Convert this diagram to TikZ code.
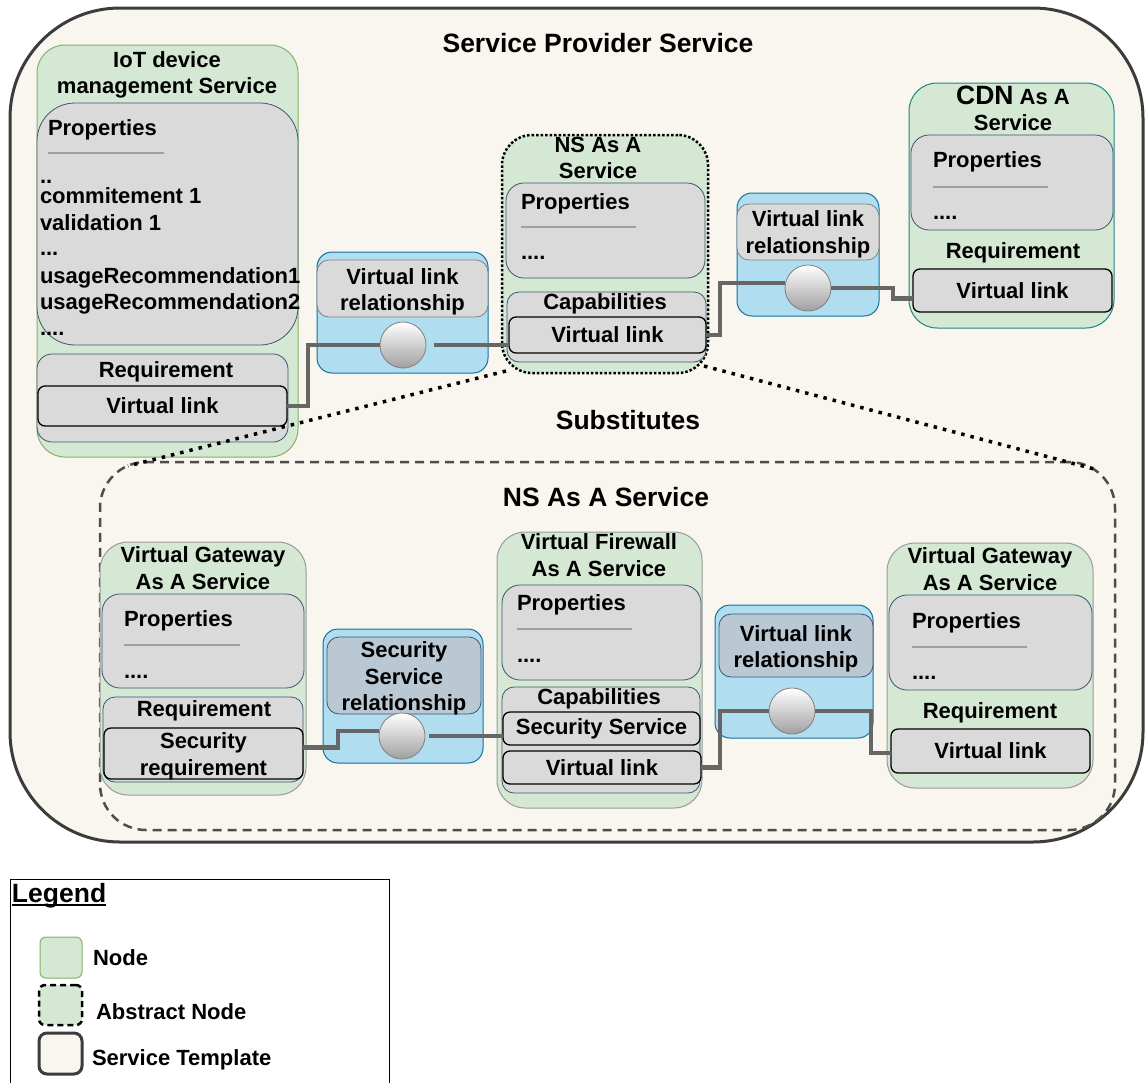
\documentclass[tikz,border=0pt]{standalone}
\usepackage{fontspec}
\setmainfont{Liberation Sans}
\usepackage{xcolor}
\usetikzlibrary{shapes,calc,positioning}

\definecolor{tplfill}{HTML}{F8F6EE}
\definecolor{tpldraw}{HTML}{3C3C3C}
\definecolor{nodefill}{HTML}{D5E8D4}
\definecolor{nodedraw}{HTML}{82B366}
\definecolor{tealdraw}{HTML}{1E8585}
\definecolor{graydraw}{HTML}{9A9A9A}
\definecolor{propfill}{HTML}{DADADA}
\definecolor{propdraw}{HTML}{3B5670}
\definecolor{relfill}{HTML}{B1DDF0}
\definecolor{reldraw}{HTML}{10739E}
\definecolor{rellabel}{HTML}{BAC8D3}
\definecolor{wirecol}{HTML}{666666}
\definecolor{ballgray}{HTML}{A0A0A0}
\definecolor{sepgray}{HTML}{A0A0A0}
\definecolor{subsgray}{HTML}{4D4D4D}

\begin{document}
\begin{tikzpicture}[x=1pt,y=-1pt]
	\tikzstyle{every node}=[inner sep=0pt, outer sep=0pt]
	\tikzstyle{lbl}=[font=\fontsize{22}{26.5}\selectfont\bfseries]
	\tikzstyle{ttl}=[font=\fontsize{26.5}{30}\selectfont\bfseries]
	\tikzstyle{shp}=[anchor=north west]
	\tikzstyle{tplbox}=[shp, fill=tplfill, draw=tpldraw, line width=3pt, rounded corners=110pt]
	\tikzstyle{nodebox}=[shp, fill=nodefill, draw=nodedraw, line width=1pt, rounded corners=28pt]
	\tikzstyle{absbox}=[shp, fill=nodefill, draw=black, line width=2.5pt, dash pattern=on 2.5pt off 2pt, rounded corners=30pt]
	\tikzstyle{subsbox}=[shp, draw=subsgray, line width=2.5pt, dash pattern=on 9pt off 6pt, rounded corners=46pt]
	\tikzstyle{propbox}=[shp, fill=propfill, draw=propdraw, line width=0.8pt, rounded corners=18pt]
	\tikzstyle{vlbox}=[shp, fill=propfill, draw=black, line width=1.3pt, rounded corners=7pt]
	\tikzstyle{relbox}=[shp, fill=relfill, draw=reldraw, line width=1pt, rounded corners=15pt]
	\tikzstyle{relgray}=[shp, fill=propfill, draw=gray, line width=0.8pt, rounded corners=12pt]
	\tikzstyle{relblue}=[shp, fill=rellabel, draw=propdraw, line width=0.8pt, rounded corners=12pt]
	\tikzstyle{ballnode}=[circle, minimum size=46pt, top color=white, bottom color=ballgray, draw=gray, line width=0.8pt]
	\tikzstyle{wire}=[draw=wirecol, line width=4.5pt]
	\tikzstyle{sepline}=[draw=sepgray, line width=2pt]
	\tikzstyle{dots}=[line width=3.5pt, dash pattern=on 3.5pt off 6pt]
	\useasboundingbox (0,0) rectangle (1145,1082);

	% service template
	\node[tplbox, minimum width=1133pt, minimum height=834pt] (tpl) at (10,8) {};
	\node[ttl, anchor=base] (tpltitle) at (598,52) {Service Provider Service};

	% IoT device management
	\node[nodebox, minimum width=261pt, minimum height=412pt] (iot) at (37,45) {};
	\node[lbl, align=center] (iottitle) at (167,75) {IoT device\\management Service};
	\node[propbox, rounded corners=38pt, minimum width=261pt, minimum height=242pt] (iotprop) at (37,103) {};
	\node[lbl, anchor=base west] (iotproptxt) at (48,135) {Properties};
	\draw[sepline] (48,153) -- (164,153);
	\node[lbl, anchor=base west] (iotdots) at (40,183) {..};
	\node[lbl, anchor=base west] (iotcom) at (40,203) {commitement 1};
	\node[lbl, anchor=base west] (iotval) at (40,230) {validation 1};
	\node[lbl, anchor=base west] (iotdotsb) at (40,255) {...};
	\node[lbl, anchor=base west] (iotusea) at (40,283) {usageRecommendation1};
	\node[lbl, anchor=base west] (iotuseb) at (40,309) {usageRecommendation2};
	\node[lbl, anchor=base west] (iotdotsc) at (40,335) {....};
	\node[propbox, rounded corners=15pt, minimum width=251pt, minimum height=88pt] (iotreq) at (37,354) {};
	\node[lbl, anchor=base] (iotreqtxt) at (166,377) {Requirement};
	\node[vlbox, lbl, minimum width=249pt, minimum height=40pt] (iotvl) at (38,386) {Virtual link};

	% first relationship
	\node[relbox, minimum width=171pt, minimum height=121pt] (rel1) at (317,252) {};
	\node[relgray, minimum width=171pt, minimum height=57pt] (rel1lbl) at (317,260) {};
	\node[lbl, align=center] (rel1txt) at ([yshift=-3.5pt]rel1lbl.center) {Virtual link\\relationship};
	\node[ballnode] (rel1ball) at (403,345) {};

	% NS as a service (abstract)
	\node[absbox, minimum width=206pt, minimum height=238pt] (ns) at (502,135) {};
	\node[lbl, align=center] (nstitle) at (598,158) {NS As A\\Service};
	\node[propbox, minimum width=199pt, minimum height=95pt] (nsprop) at (506,183) {};
	\node[lbl, anchor=base west] (nsproptxt) at (521,209) {Properties};
	\draw[sepline] (521,227) -- (636,227);
	\node[lbl, anchor=base west] (nsdots) at (521,259) {....};
	\node[propbox, rounded corners=12pt, minimum width=199pt, minimum height=70pt] (nscap) at (507,292) {};
	\node[lbl, anchor=base] (nscaptxt) at (605,309) {Capabilities};
	\node[vlbox, lbl, minimum width=197pt, minimum height=36pt] (nsvl) at (509,317) {Virtual link};

	% second relationship
	\node[relbox, minimum width=142pt, minimum height=123pt] (rel2) at (737,193) {};
	\node[relgray, minimum width=142pt, minimum height=56pt] (rel2lbl) at (737,204) {};
	\node[lbl, align=center] (rel2txt) at ([yshift=-2.5pt]rel2lbl.center) {Virtual link\\relationship};
	\node[ballnode] (rel2ball) at (808,288) {};

	% CDN
	\node[nodebox, draw=tealdraw, minimum width=205pt, minimum height=245pt] (cdn) at (909,83) {};
	\node[lbl, align=center] (cdntitle) at (1013,108.5) {{\fontsize{26.5}{30}\selectfont CDN} As A\\Service};
	\node[propbox, minimum width=202pt, minimum height=95pt] (cdnprop) at (911,135) {};
	\node[lbl, anchor=base west] (cdnproptxt) at (933,167) {Properties};
	\draw[sepline] (933,187) -- (1048,187);
	\node[lbl, anchor=base west] (cdndots) at (933,219) {....};
	\node[lbl, anchor=base] (cdnreqtxt) at (1013,258) {Requirement};
	\node[vlbox, lbl, minimum width=199pt, minimum height=43pt] (cdnvl) at (913,269) {Virtual link};

	% substitutes
	\node[subsbox, minimum width=1015pt, minimum height=368pt] (subs) at (100,462) {};
	\node[ttl, anchor=base] (substxt) at (628,429) {Substitutes};
	\node[ttl, anchor=base] (substitle) at (606,506) {NS As A Service};

	% virtual gateway 1
	\node[nodebox, draw=graydraw, minimum width=206pt, minimum height=253pt] (gwa) at (100,542) {};
	\node[lbl, align=center] (gwatitle) at (203,568) {Virtual Gateway\\As A Service};
	\node[propbox, minimum width=202pt, minimum height=94pt] (gwaprop) at (102,594) {};
	\node[lbl, anchor=base west] (gwaproptxt) at (124,626) {Properties};
	\draw[sepline] (124,645) -- (240,645);
	\node[lbl, anchor=base west] (gwadots) at (124,678) {....};
	\node[propbox, rounded corners=12pt, minimum width=200pt, minimum height=85pt] (gwareq) at (103,697) {};
	\node[lbl, anchor=base] (gwareqtxt) at (204,716) {Requirement};
	\node[vlbox, minimum width=199pt, minimum height=51pt] (gwasec) at (104,728) {};
	\node[lbl, align=center] (gwasectxt) at ([yshift=-3pt]gwasec.center) {Security\\requirement};

	% security relationship
	\node[relbox, minimum width=160pt, minimum height=134pt] (secrel) at (323,629) {};
	\node[relblue, minimum width=154pt, minimum height=77pt] (secrellbl) at (327,637) {};
	\node[lbl, align=center] (secreltxt) at ([yshift=-3pt]secrellbl.center) {Security\\Service\\relationship};
	\node[ballnode] (secball) at (402,736) {};

	% virtual firewall
	\node[nodebox, draw=graydraw, minimum width=205pt, minimum height=276pt] (fw) at (497,532) {};
	\node[lbl, align=center] (fwtitle) at (599,555) {Virtual Firewall\\As A Service};
	\node[propbox, minimum width=199pt, minimum height=95pt] (fwprop) at (502,585) {};
	\node[lbl, anchor=base west] (fwproptxt) at (517,610) {Properties};
	\draw[sepline] (517,629) -- (632,629);
	\node[lbl, anchor=base west] (fwdots) at (517,662) {....};
	\node[propbox, rounded corners=12pt, minimum width=198pt, minimum height=106pt] (fwcap) at (502,687) {};
	\node[lbl, anchor=base] (fwcaptxt) at (599,704) {Capabilities};
	\node[vlbox, lbl, minimum width=197pt, minimum height=33pt] (fwsec) at (503,712) {Security Service};
	\node[vlbox, lbl, minimum width=198pt, minimum height=33pt] (fwvl) at (503,751) {Virtual link};

	% third relationship
	\node[relbox, minimum width=158pt, minimum height=133pt] (rel3) at (715,605) {};
	\node[relblue, minimum width=154pt, minimum height=63pt] (rel3lbl) at (719,614) {};
	\node[lbl, align=center] (rel3txt) at ([yshift=-3.5pt]rel3lbl.center) {Virtual link\\relationship};
	\node[ballnode] (rel3ball) at (792,711) {};

	% virtual gateway 2
	\node[nodebox, draw=graydraw, minimum width=206pt, minimum height=245pt] (gwb) at (887,543) {};
	\node[lbl, align=center] (gwbtitle) at (990,569) {Virtual Gateway\\As A Service};
	\node[propbox, minimum width=203pt, minimum height=95pt] (gwbprop) at (889,595) {};
	\node[lbl, anchor=base west] (gwbproptxt) at (912,628) {Properties};
	\draw[sepline] (912,647) -- (1027,647);
	\node[lbl, anchor=base west] (gwbdots) at (912,679) {....};
	\node[lbl, anchor=base] (gwbreqtxt) at (990,718) {Requirement};
	\node[vlbox, lbl, minimum width=199pt, minimum height=44pt] (gwbvl) at (891,729) {Virtual link};

	% links
	\draw[wire] (iotvl.east) -- ++(21,0) |- (rel1ball.west);
	\draw[wire, shorten <=8pt] (rel1ball.east) -- (rel1ball.east -| nsvl.west);
	\draw[wire] (nsvl.east) -- ++(14,0) |- ([yshift=5pt]rel2ball.west);
	\draw[wire] (rel2ball.east) -- ++(62,0) |- ([yshift=-8pt]cdnvl.west);
	\draw[wire] ([yshift=6pt]gwasec.east) -- ++(35,0) |- ([yshift=5pt]secball.west);
	\draw[wire, shorten <=4pt] (secball.east) -- (secball.east -| fwsec.west);
	\draw[wire] (fwvl.east) -- ++(19,0) |- (rel3ball.west);
	\draw[wire] (rel3ball.east) -- ++(56,0) |- ([yshift=-2pt]gwbvl.west);

	% substitution lines
	\coordinate (nsleft) at (506,371);
	\coordinate (nsright) at (704,366);
	\coordinate (subsleft) at (128,466);
	\coordinate (subsright) at (1098,470);
	\draw[dots] (nsleft) -- (subsleft);
	\draw[dots] (nsright) -- (subsright);

	% legend
	\node[shp, draw=black, line width=1pt, minimum width=379pt, minimum height=215pt] (legend) at (10,879) {};
	\node[ttl, anchor=base west] (legendtxt) at (12,902) {Legend};
	\draw[line width=1.5pt] ([yshift=-3pt]legendtxt.base west) -- ([yshift=-3pt]legendtxt.base east);
	\node[nodebox, rounded corners=6pt, minimum width=42pt, minimum height=41pt] (keynode) at (40,937) {};
	\node[lbl, anchor=base west] (keynodetxt) at (93,965) {Node};
	\node[absbox, dash pattern=on 6pt off 4pt, rounded corners=6pt, minimum width=43pt, minimum height=40pt] (keyabs) at (39,985) {};
	\node[lbl, anchor=base west] (keyabstxt) at (96,1019) {Abstract Node};
	\node[tplbox, rounded corners=8pt, minimum width=43pt, minimum height=41pt] (keytpl) at (39,1033) {};
	\node[lbl, anchor=base west] (keytpltxt) at (92,1065) {Service Template};
\end{tikzpicture}
\end{document}
